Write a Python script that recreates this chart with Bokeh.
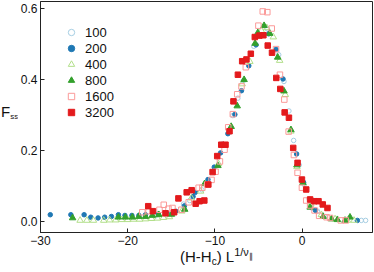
from bokeh.plotting import figure
from bokeh.models import Range1d, FixedTicker, Legend, LegendItem, Div
from bokeh.layouts import row, column
from bokeh.embed import file_html
from bokeh.resources import INLINE

# ---- data ----
labels = ["100", "200", "400", "800", "1600", "3200"]

s100_x = [-16.8, -15.5, -13.6, -12.9, -11.5, -9.17, -7.95, -7.37, -6.74, -5.55, -4.0, -2.69, -2.09, -1.52,
          -0.98, -0.34, 0.23, 0.80, 1.11, 1.75, 2.6, 6.78, 7.27]
s100_y = [0.017, 0.023, 0.050, 0.060, 0.090, 0.219, 0.299, 0.348, 0.397, 0.494, 0.543, 0.470, 0.395, 0.312,
          0.229, 0.160, 0.105, 0.065, 0.039, 0.030, 0.015, 0.004, 0.004]

s200_x = [-28.88, -26.52, -25.0, -24.24, -23.40, -22.64, -21.87, -21.07, -20.32, -19.52, -18.72, -17.96,
          -16.5, -15.5, -14.5, -13.5, -12.51, -12.25, -10.80, -10.08, -9.36, -8.52, -7.72, -6.96, -6.12,
          -5.29, -3.84, -3.00, -2.20, -0.64, 0.16, 1.53, 6.32]
s200_y = [0.020, 0.020, 0.020, 0.013, 0.011, 0.013, 0.015, 0.020, 0.018, 0.018, 0.018, 0.020,
          0.022, 0.025, 0.030, 0.045, 0.071, 0.083, 0.119, 0.154, 0.194, 0.248, 0.302, 0.369, 0.439,
          0.498, 0.529, 0.485, 0.402, 0.191, 0.111, 0.032, 0.004]

s400_x = [-25.46, -24.69, -23.93, -22.75, -22.07, -21.38, -20.70, -20.01, -19.33, -18.64, -17.96, -17.27,
          -16.59, -15.90, -15.22, -13.8, -12.7, -11.64, -9.59, -6.88, -6.00, -4.68, -4.06, -3.31, -2.58,
          -1.94, -1.29, -0.60, 0.99, 2.2, 3.77, 5.18, 5.94]
s400_y = [0.004, 0.004, 0.004, 0.004, 0.005, 0.005, 0.006, 0.006, 0.007, 0.007, 0.008, 0.009,
          0.010, 0.012, 0.014, 0.030, 0.067, 0.086, 0.163, 0.388, 0.451, 0.538, 0.546, 0.520, 0.454,
          0.358, 0.255, 0.155, 0.050, 0.020, 0.008, 0.004, 0.004]

s800_x = [-26.32, -21.07, -20.27, -19.47, -18.72, -17.96, -17.19, -16.44, -14.99, -13.47, -11.19, -9.66,
          -8.14, -7.45, -6.66, -5.40, -5.09, -4.37, -3.72, -2.81, -2.09, -1.29, -0.60, 0.08, 0.91,
          2.40, 3.36, 4.04, 4.91, 5.48]
s800_y = [0.011, 0.013, 0.013, 0.013, 0.015, 0.015, 0.018, 0.020, 0.021, 0.035, 0.107, 0.158,
          0.268, 0.326, 0.400, 0.502, 0.532, 0.552, 0.530, 0.463, 0.368, 0.259, 0.160, 0.110, 0.041,
          0.015, 0.008, 0.006, 0.004, 0.013]

s1600_x = [-18.33, -17.61, -16.36, -15.87, -15.33, -14.87, -13.85, -13.01, -11.87, -11.45, -10.88, -10.39,
           -9.93, -9.43, -8.90, -8.48, -7.95, -7.45, -6.96, -6.46, -5.02, -4.52, -4.00, -3.49, -3.00,
           -2.55, -2.05, -1.55, -0.95, -0.53, -0.03, 0.46, 0.91, 1.42, 1.94, 2.79, 3.20, 4.42, 4.99]
s1600_y = [0.027, 0.030, 0.034, 0.048, 0.037, 0.039, 0.034, 0.055, 0.096, 0.096, 0.105, 0.118,
           0.141, 0.170, 0.203, 0.266, 0.303, 0.359, 0.381, 0.435, 0.552, 0.592, 0.590, 0.544, 0.486,
           0.414, 0.344, 0.254, 0.188, 0.138, 0.096, 0.060, 0.046, 0.032, 0.017, 0.013, 0.011, 0.004, 0.004]

s3200_x = [-17.65, -17.12, -15.67, -14.68, -14.19, -13.24, -12.67, -12.21, -11.76, -11.22, -10.76, -10.27,
           -9.74, -9.28, -8.79, -8.33, -7.88, -7.37, -6.88, -6.39, -5.89, -5.43, -4.91, -4.45, -3.95,
           -3.46, -2.97, -2.51, -2.01, -1.52, -1.03, -0.53, -0.03, 0.46, 0.91, 1.37, 1.87, 2.36, 2.90]
s3200_y = [0.044, 0.030, 0.024, 0.027, 0.066, 0.083, 0.089, 0.051, 0.058, 0.060, 0.105, 0.140,
           0.185, 0.217, 0.217, 0.255, 0.339, 0.414, 0.452, 0.457, 0.473, 0.520, 0.524, 0.525, 0.496,
           0.476, 0.405, 0.374, 0.308, 0.293, 0.208, 0.166, 0.119, 0.091, 0.063, 0.058, 0.058, 0.049, 0.039]

x_ticks = [-30, -20, -10, 0]
x_tick_labels = ["\u221230", "\u221220", "\u221210", "0"]
y_ticks = [0.0, 0.2, 0.4, 0.6]
y_tick_labels = ["0.0", "0.2", "0.4", "0.6"]

FONT = "Liberation Sans"
AX = "#222222"
TXT = "#111111"

p = figure(width=357, height=252, output_backend="svg", toolbar_location=None,
           x_range=Range1d(-30, 8.06), y_range=Range1d(-0.03, 0.62),
           min_border_left=22, min_border_right=2, min_border_top=1, min_border_bottom=20)
p.grid.visible = False
p.outline_line_color = AX
p.outline_line_width = 1
p.background_fill_color = "white"
p.border_fill_color = "white"

for ax in (p.xaxis[0], p.yaxis[0]):
    ax.axis_line_color = AX
    ax.axis_line_width = 1
    ax.major_tick_line_color = AX
    ax.major_tick_in = 4
    ax.major_tick_out = 0
    ax.minor_tick_line_color = None
    ax.major_label_text_font = FONT
    ax.major_label_text_font_size = "12px"
    ax.major_label_text_color = TXT

p.xaxis[0].ticker = FixedTicker(ticks=x_ticks)
p.xaxis[0].major_label_overrides = dict(zip(x_ticks, x_tick_labels))
p.xaxis[0].major_label_standoff = 3
p.yaxis[0].ticker = FixedTicker(ticks=y_ticks)
p.yaxis[0].major_label_overrides = dict(zip(y_ticks, y_tick_labels))
p.yaxis[0].major_label_standoff = 3

series = [
    (s100_x, s100_y, "circle", 4.5, "#a6cee3", False),
    (s200_x, s200_y, "circle", 4.5, "#1f78b4", True),
    (s400_x, s400_y, "triangle", 6.5, "#b2df8a", False),
    (s800_x, s800_y, "triangle", 6.5, "#33a02c", True),
    (s1600_x, s1600_y, "square", 5.5, "#fb9a99", False),
    (s3200_x, s3200_y, "square", 5.5, "#e31a1c", True),
]
items = []
for (xs, ys, mk, sz, col, filled), lab in zip(series, labels):
    r = p.scatter(xs, ys, marker=mk, size=sz, line_color=col, line_width=1,
                  fill_color=col if filled else None)
    items.append(LegendItem(label=lab, renderers=[r]))

legend = Legend(items=items, location=(23, 112), padding=5, margin=0, spacing=0,
                glyph_width=16, glyph_height=16, label_height=16, label_standoff=6,
                label_text_font=FONT, label_text_font_size="13px", label_text_color=TXT,
                border_line_color=None, background_fill_alpha=0)
p.add_layout(legend)

# axis titles as real HTML text (sub/superscripts)
base = f"font-family:'{FONT}';color:{TXT};white-space:nowrap;"
ylabel_html = (f'<div style="{base}font-size:15px;line-height:15px;padding-top:104px;padding-left:1px;">'
               'F<span style="font-size:8px;position:relative;top:2px;">ss</span></div>')
xlabel_html = (f'<div style="{base}font-size:15px;line-height:16px;padding-left:163px;'
               'position:relative;top:-3px;">'
               '(H-H<span style="font-size:10px;position:relative;top:3px;">c</span>) L'
               '<span style="font-size:11px;position:relative;top:-6px;">1/\u03bd'
               '<span style="font-size:8px;position:relative;top:3px;">\u2225</span></span></div>')

ydiv = Div(text=ylabel_html, width=17, height=272, margin=0, styles={"overflow": "visible"})
xdiv = Div(text=xlabel_html, width=357, height=20, margin=0, styles={"overflow": "visible"})

layout = row(ydiv, column(p, xdiv, spacing=0), spacing=0)

open("out.html", "w").write(file_html(layout, INLINE))
